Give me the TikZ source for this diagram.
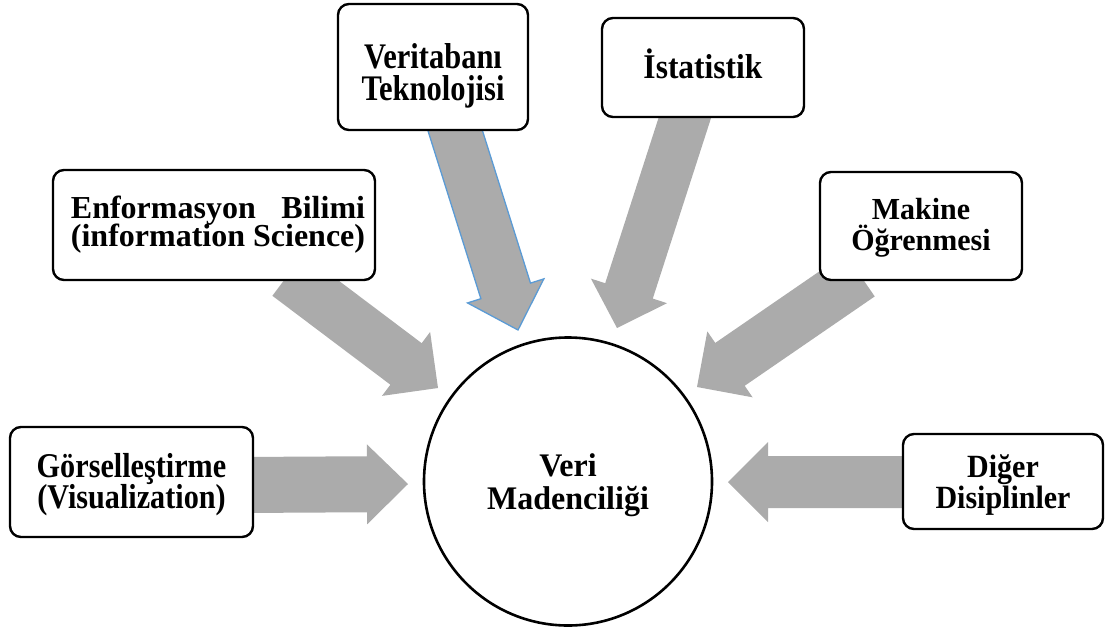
\documentclass[tikz,border=0pt]{standalone}
\usepackage{fontspec}
\setmainfont{Liberation Serif}
\usepackage{calc}
\usepackage{graphicx}
\usetikzlibrary{calc}

% block arrow: #1 style, #2 tail, #3 tip, #4 shaft half width, #5 head half width, #6 head length
\newcommand\flowarrow[6]{%
  \coordinate (fa-b) at ($(#3)!#6!(#2)$);
  \path[#1] ($(#2)!#4!90:(#3)$) -- ($(fa-b)!#4!90:(#3)$) -- ($(fa-b)!#5!90:(#3)$)
    -- (#3) -- ($(fa-b)!#5!-90:(#3)$) -- ($(fa-b)!#4!-90:(#3)$)
    -- ($(#2)!#4!-90:(#3)$) -- cycle;
}
% one smashed line of label text, stretched vertically by #1
\newcommand\fl[2]{\smash{\scalebox{1}[#1]{#2}}}
% invisible strut that sets the height of a label's first line
\newcommand\lift[1]{\rule{0pt}{#1pt}}
% bold label font: size #1, baseline skip #2
\newcommand\fieldfont[2]{\bfseries\fontsize{#1}{#2}\selectfont\lineskiplimit-100pt\relax}

\definecolor{arrowgray}{HTML}{ABABAB}
\definecolor{edgeblue}{HTML}{5B9BD5}

\begin{document}
\begin{tikzpicture}[x=1pt,y=-1pt,
  field/.style={draw=black, line width=2.4pt, fill=white, rounded corners=11pt,
    align=center, inner sep=0pt},
  core/.style={draw=black, line width=2.6pt, fill=white, circle, minimum size=288pt,
    align=center, inner sep=0pt},
  flow/.style={fill=arrowgray},
  flowedged/.style={fill=arrowgray, draw=edgeblue, line width=1.3pt, line join=miter}]
\useasboundingbox (0,0) rectangle (1106,630);

% arrow ends
\coordinate (gor-t) at (240,485);   \coordinate (gor-h) at (408,484);
\coordinate (dig-t) at (915,482);   \coordinate (dig-h) at (728,482);
\coordinate (vt-t)  at (452.6,122.4); \coordinate (vt-h) at (518,330);
\coordinate (ist-t) at (688,108);   \coordinate (ist-h) at (617,328);
\coordinate (enf-t) at (288,275);   \coordinate (enf-h) at (438,388);
\coordinate (mak-t) at (860,275);   \coordinate (mak-h) at (697,387);

% arrows into the centre
\flowarrow{flow}{gor-t}{gor-h}{28pt}{40pt}{41pt}
\flowarrow{flow}{dig-t}{dig-h}{26pt}{40pt}{40pt}
\flowarrow{flowedged}{vt-t}{vt-h}{26pt}{40pt}{41pt}
\flowarrow{flow}{ist-t}{ist-h}{25pt}{40pt}{39pt}
\flowarrow{flow}{enf-t}{enf-h}{26pt}{40pt}{40pt}
\flowarrow{flow}{mak-t}{mak-h}{26pt}{40pt}{40pt}

% source fields
\node[field, font={\fieldfont{30.5}{32}}, minimum width=190pt, minimum height=126pt] (vt) at (433,67)
  {\lift{34}\fl{1.18}{Veritabanı}\\\fl{1.18}{Teknolojisi}};
\node[field, font={\fieldfont{31.5}{33}}, minimum width=202pt, minimum height=99pt] (ist) at (703,67.5)
  {\lift{21}\fl{1.1}{İstatistik}};
\node[field, font={\fieldfont{32}{28}}, minimum width=322pt, minimum height=110pt] (enf) at (214,225)
  {\lift{14}\hspace*{8pt}\fl{1}{\makebox[\widthof{(information Science)}][s]{Enformasyon Bilimi}}\\
   \hspace*{8pt}\fl{1}{(information Science)}};
\node[field, font={\fieldfont{30}{31}}, minimum width=202pt, minimum height=108pt] (mak) at (921,226)
  {\lift{17}\fl{1.02}{Makine}\\\fl{1.02}{Öğrenmesi}};
\node[field, font={\fieldfont{30.2}{31}}, minimum width=243pt, minimum height=110pt] (gor) at (131.5,482)
  {\lift{21}\fl{1.15}{Görselleştirme}\\\fl{1.15}{(Visualization)}};
\node[field, font={\fieldfont{30}{31}}, minimum width=200pt, minimum height=95pt] (dig) at (1003,481.5)
  {\lift{22}\fl{1.08}{Diğer}\\\fl{1.08}{Disiplinler}};

% centre
\node[core, font={\fieldfont{32}{33}}] (vm) at (568,481.5)
  {\lift{22}\fl{1.03}{Veri}\\\fl{1.03}{Madenciliği}};
\end{tikzpicture}
\end{document}
